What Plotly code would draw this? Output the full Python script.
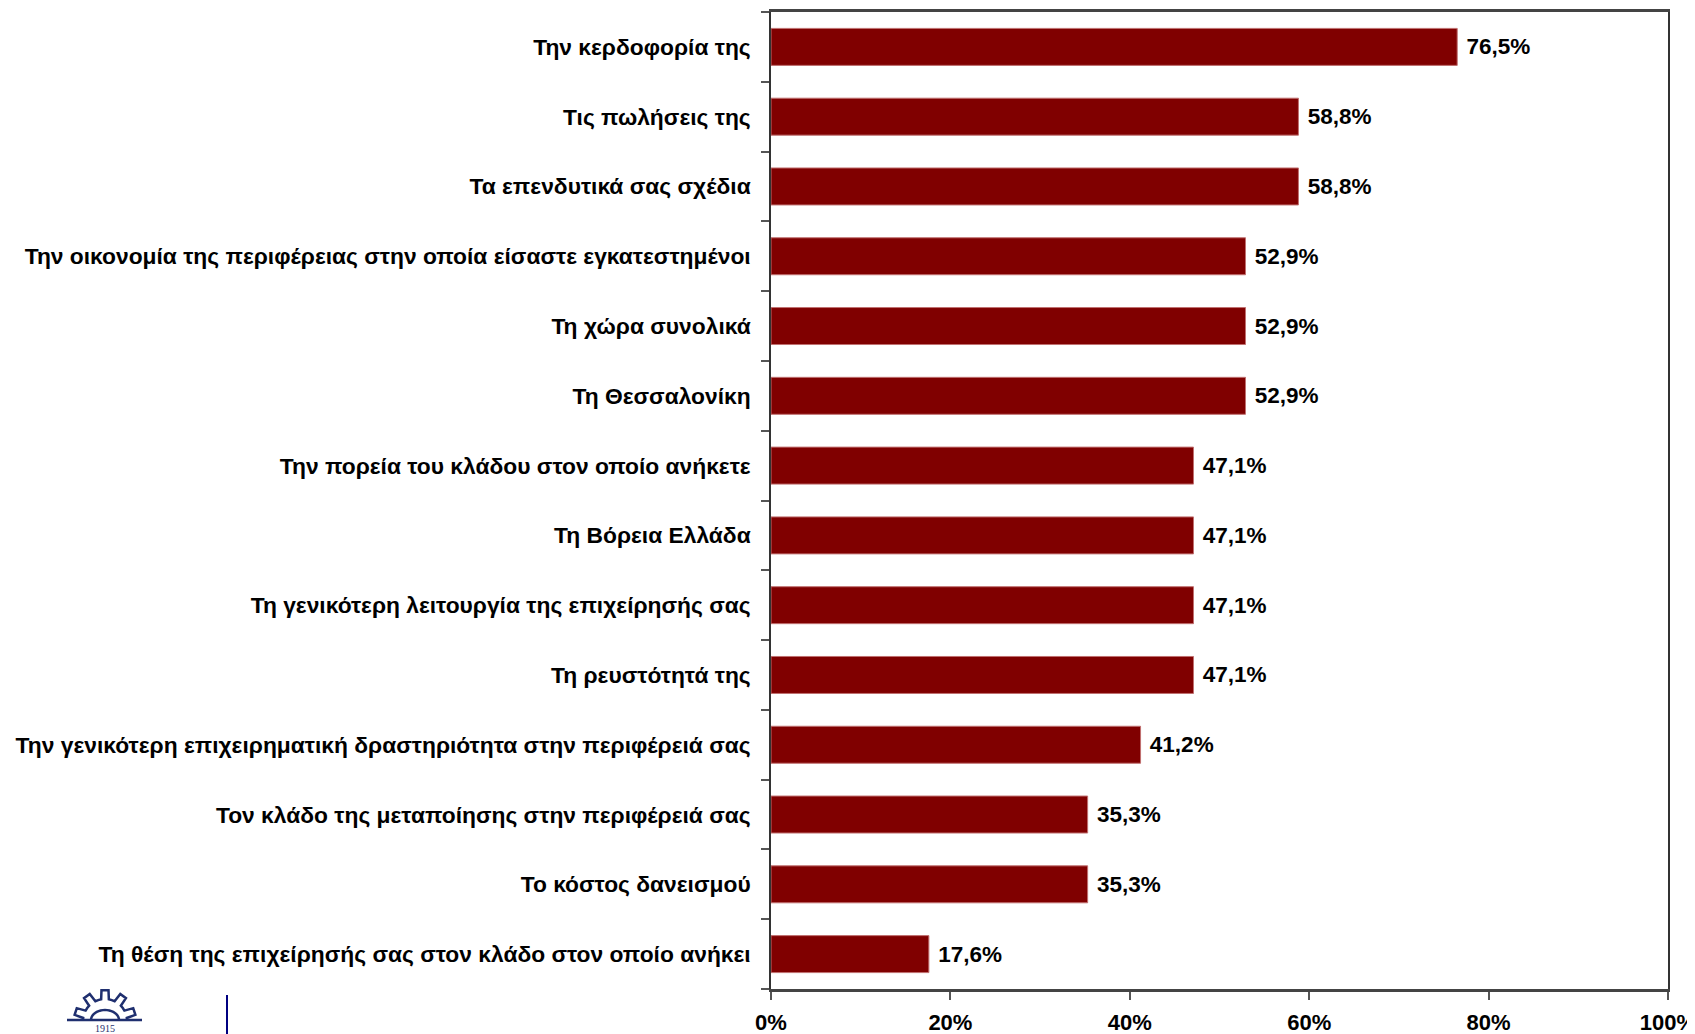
import math
import plotly.graph_objects as go

categories = [
    "Την κερδοφορία της",
    "Τις πωλήσεις της",
    "Τα επενδυτικά σας σχέδια",
    "Την οικονομία της περιφέρειας στην οποία είσαστε εγκατεστημένοι",
    "Τη χώρα συνολικά",
    "Τη Θεσσαλονίκη",
    "Την πορεία του κλάδου στον οποίο ανήκετε",
    "Τη Βόρεια Ελλάδα",
    "Τη γενικότερη λειτουργία της επιχείρησής σας",
    "Τη ρευστότητά της",
    "Την γενικότερη επιχειρηματική δραστηριότητα στην περιφέρειά σας",
    "Τον κλάδο της μεταποίησης στην περιφέρειά σας",
    "Το κόστος δανεισμού",
    "Τη θέση της επιχείρησής σας στον κλάδο στον οποίο ανήκει",
]
values = [76.5, 58.8, 58.8, 52.9, 52.9, 52.9, 47.1, 47.1, 47.1, 47.1, 41.2, 35.3, 35.3, 17.6]
x_ticks = [0, 20, 40, 60, 80, 100]

FONT = "Liberation Sans"

# figure geometry (page has an 8px body margin)
W, H = 1695, 1034
ML, MR, MT, MB = 763, 35, 4, 53
PW, PH = W - ML - MR, H - MT - MB

fig = go.Figure(go.Bar(
    y=categories,
    x=values,
    orientation="h",
    marker=dict(color="#800000", line=dict(color="#c07070", width=1)),
    texttemplate=" <b>%{x:.1f}%</b>",
    textposition="outside",
    textfont=dict(family=FONT, size=22.5, color="black"),
    cliponaxis=False,
    hoverinfo="skip",
))

fig.update_layout(
    width=W, height=H,
    margin=dict(l=ML, r=MR, t=MT, b=MB, autoexpand=False),
    paper_bgcolor="white", plot_bgcolor="white",
    separators=",.",
    bargap=0.47,
    showlegend=False,
    font=dict(family=FONT, size=22, color="black"),
)

fig.update_xaxes(
    range=[0, 100],
    tickvals=x_ticks,
    ticktext=[f"<b>{v}%</b>" for v in x_ticks],
    ticks="outside", ticklen=8, tickcolor="#555", tickwidth=1.5,
    showline=True, linecolor="#444", linewidth=2.5,
    mirror=True,
    showgrid=False, zeroline=False,
    tickfont=dict(family=FONT, size=22, color="black"),
    ticklabelstandoff=4,
    ticklabeloverflow="allow",
    automargin=False,
)

fig.update_yaxes(
    categoryorder="array", categoryarray=categories,
    autorange="reversed",
    ticks="outside", ticklen=8, tickcolor="#555", tickwidth=1.5,
    tickson="boundaries",
    ticktext=[f"<b>{c}</b>" for c in categories],
    tickvals=categories,
    showline=True, linecolor="#333", linewidth=1.5,
    mirror=True,
    showgrid=False, zeroline=False,
    tickfont=dict(family=FONT, size=22.8, color="black"),
    ticklabelstandoff=14,
    automargin=False,
)


# helpers converting page pixels to paper coordinates
def px(X):
    return (X - 8 - ML) / PW


def py(Y):
    return (H - MB - (Y - 8)) / PH


LOGO = "#1f2f6f"
# separator line
fig.add_shape(type="line", xref="paper", yref="paper",
              x0=px(227), x1=px(227), y0=py(995), y1=py(1045),
              line=dict(color="#000080", width=2))

# emblem: half gear above a base line
cx, cy = 105, 1021
r_out, r_in = 31, 22
n_teeth = 5
seg = math.pi / n_teeth
pts = []
for k in range(n_teeth):
    a0 = math.pi - k * seg
    for frac, r in ((0.0, r_in), (0.22, r_in), (0.32, r_out), (0.68, r_out), (0.78, r_in), (1.0, r_in)):
        a = a0 - frac * seg
        pts.append((cx + r * math.cos(a), cy - r * math.sin(a)))
path = "M " + " L ".join(f"{px(x):.5f},{py(y):.5f}" for x, y in pts)
fig.add_shape(type="path", xref="paper", yref="paper", path=path,
              line=dict(color=LOGO, width=2.5))
inner = []
for i in range(21):
    a = math.pi - math.pi * i / 20
    inner.append((cx + 14 * math.cos(a), cy - 1 - 10 * math.sin(a)))
fig.add_shape(type="path", xref="paper", yref="paper",
              path="M " + " L ".join(f"{px(x):.5f},{py(y):.5f}" for x, y in inner),
              line=dict(color=LOGO, width=2.5))
fig.add_shape(type="line", xref="paper", yref="paper",
              x0=px(67), x1=px(142), y0=py(1020), y1=py(1020),
              line=dict(color=LOGO, width=2.5))
fig.add_annotation(xref="paper", yref="paper", x=px(105), y=py(1021),
                   text="1915", showarrow=False, xanchor="center", yanchor="top",
                   font=dict(family="Liberation Serif", size=10, color=LOGO))

fig.write_html("out.html")
